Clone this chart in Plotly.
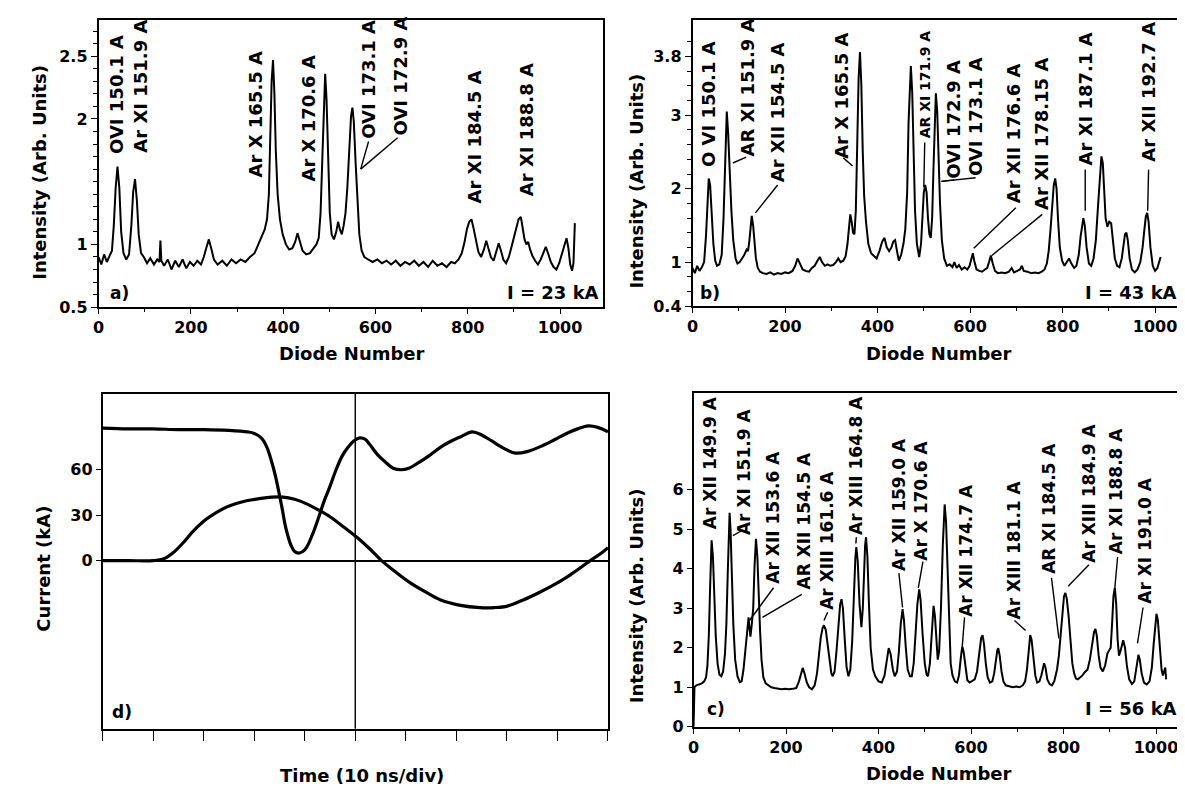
import plotly.graph_objects as go

W, H = 1185, 789
FONT = "DejaVu Sans, Liberation Sans, Arial, sans-serif"

# ---------------- Panel a) I = 23 kA ----------------
a_diode = [0, 6, 12, 18, 24, 29, 33, 37, 41, 45,
           49, 54, 60, 66, 71, 75, 79, 83, 87, 92,
           98, 105, 112, 120, 127, 132, 134, 136, 142, 150,
           158, 166, 174, 182, 190, 198, 206, 214, 222, 228,
           234, 239, 244, 250, 258, 268, 278, 288, 298, 308,
           318, 328, 338, 346, 354, 360, 365, 369, 372, 375,
           378, 381, 384, 388, 393, 399, 406, 413, 420, 426,
           431, 436, 442, 450, 458, 466, 472, 477, 481, 485,
           488, 491, 494, 497, 501, 505, 510, 515, 519, 523,
           527, 531, 535, 539, 543, 547, 550, 553, 557, 561,
           565, 570, 576, 584, 594, 604, 614, 624, 634, 644,
           654, 664, 674, 684, 694, 704, 714, 724, 734, 744,
           754, 764, 772, 780, 787, 793, 798, 803, 808, 813,
           818, 823, 829, 835, 840, 845, 850, 856, 862, 867,
           872, 877, 883, 889, 894, 900, 905, 910, 915, 919,
           923, 927, 931, 935, 940, 946, 952, 958, 964, 969,
           974, 980, 986, 992, 998, 1004, 1009, 1014, 1018, 1022,
           1026, 1029, 1032]
a_intensity = [0.90, 0.84, 0.92, 0.86, 0.91, 0.95, 1.15, 1.45, 1.62, 1.45,
               1.10, 0.93, 0.88, 0.92, 1.15, 1.42, 1.52, 1.35, 1.08, 0.93,
               0.90, 0.85, 0.89, 0.84, 0.88, 0.86, 1.03, 0.87, 0.83, 0.88,
               0.80, 0.87, 0.82, 0.88, 0.81, 0.86, 0.83, 0.87, 0.84, 0.90,
               0.98, 1.04, 0.97, 0.88, 0.84, 0.87, 0.83, 0.88, 0.85, 0.88,
               0.86, 0.90, 0.93, 1.00, 1.06, 1.12, 1.20, 1.40, 1.85, 2.30,
               2.47, 2.20, 1.75, 1.40, 1.20, 1.08, 1.00, 0.96, 0.97, 1.02,
               1.09, 1.03, 0.95, 0.92, 0.93, 0.97, 1.00, 1.05, 1.25, 1.70,
               2.15, 2.36, 2.15, 1.65, 1.25, 1.08, 1.04, 1.10, 1.18, 1.12,
               1.08, 1.15, 1.25, 1.45, 1.80, 2.02, 2.09, 1.98, 1.65, 1.32,
               1.08, 0.95, 0.90, 0.88, 0.86, 0.88, 0.85, 0.87, 0.84, 0.87,
               0.83, 0.86, 0.84, 0.87, 0.83, 0.86, 0.82, 0.87, 0.83, 0.85,
               0.82, 0.86, 0.85, 0.88, 0.93, 1.02, 1.12, 1.18, 1.20, 1.12,
               1.02, 0.94, 0.90, 0.96, 1.03, 0.97, 0.90, 0.87, 0.95, 1.01,
               0.95, 0.88, 0.85, 0.90, 0.97, 1.06, 1.15, 1.20, 1.22, 1.14,
               1.04, 1.00, 1.02, 0.96, 0.91, 0.87, 0.84, 0.88, 0.94, 0.98,
               0.93, 0.86, 0.82, 0.80, 0.85, 0.93, 1.00, 1.05, 0.97, 0.84,
               0.79, 0.85, 1.17]
a_labels = ["OVI 150.1 A", "Ar XI 151.9 A", "Ar X 165.5 A", "Ar X 170.6 A",
            "OVI 173.1 A", "OVI 172.9 A", "Ar XI 184.5 A", "Ar XI 188.8 A"]
a_label_x = [40, 92, 340, 455, 586, 654, 815, 926]
a_label_y = [1.71, 1.72, 1.53, 1.49, 1.83, 1.86, 1.32, 1.38]
a_leaders = [(568, 1.60, 585, 1.82), (568, 1.60, 648, 1.85)]

# ---------------- Panel b) I = 43 kA ----------------
b_diode = [0, 5, 10, 15, 20, 25, 29, 32, 35, 38,
           41, 45, 49, 53, 58, 63, 67, 71, 74, 77,
           80, 84, 88, 93, 97, 102, 107, 112, 117, 120,
           123, 126, 128, 131, 134, 137, 141, 146, 152, 160,
           168, 176, 184, 192, 200, 208, 216, 222, 227, 232,
           238, 245, 252, 258, 264, 270, 275, 280, 286, 292,
           298, 304, 310, 315, 320, 326, 331, 335, 338, 341,
           344, 347, 350, 353, 356, 359, 362, 365, 368, 371,
           375, 380, 386, 392, 398, 404, 410, 415, 420, 425,
           430, 434, 438, 442, 446, 451, 456, 460, 464, 467,
           470, 472, 475, 478, 481, 485, 490, 494, 497, 500,
           503, 506, 509, 512, 515, 518, 521, 524, 526, 529,
           532, 535, 539, 544, 550, 556, 562, 566, 571, 576,
           582, 588, 594, 599, 603, 606, 609, 614, 620, 626,
           632, 637, 641, 645, 649, 654, 660, 668, 676, 684,
           690, 695, 702, 708, 712, 716, 724, 732, 740, 748,
           755, 761, 766, 770, 774, 778, 781, 784, 787, 790,
           794, 799, 804, 809, 814, 819, 825, 830, 835, 839,
           842, 845, 848, 852, 857, 862, 867, 872, 877, 881,
           884, 887, 890, 893, 897, 901, 905, 909, 913, 918,
           923, 928, 932, 935, 938, 941, 945, 950, 956, 962,
           968, 973, 977, 980, 983, 986, 990, 995, 1000, 1005,
           1012]
b_intensity = [0.92, 0.85, 0.95, 0.88, 0.93, 1.00, 1.35, 1.85, 2.14, 2.05,
               1.70, 1.25, 1.02, 0.95, 0.97, 1.10, 1.60, 2.60, 3.05, 2.75,
               2.20, 1.70, 1.30, 1.05, 0.98, 1.00, 1.05, 1.10, 1.17, 1.15,
               1.30, 1.55, 1.63, 1.50, 1.25, 1.05, 0.92, 0.87, 0.85, 0.84,
               0.86, 0.83, 0.85, 0.84, 0.86, 0.85, 0.88, 0.95, 1.05, 0.97,
               0.90, 0.88, 0.87, 0.92, 0.95, 1.02, 1.07, 1.00, 0.95, 0.97,
               0.95, 0.96, 1.00, 1.05, 1.00, 1.02, 1.08, 1.25, 1.50, 1.65,
               1.55, 1.40, 1.38, 1.70, 2.60, 3.50, 3.86, 3.40, 2.50, 1.90,
               1.55, 1.25, 1.12, 1.08, 1.05, 1.15, 1.28, 1.33, 1.20, 1.15,
               1.20, 1.28, 1.30, 1.15, 1.02, 1.10, 1.25, 1.45, 1.95, 2.90,
               3.55, 3.67, 3.30, 2.50, 1.70, 1.25, 1.07, 1.25, 1.60, 1.95,
               2.05, 1.95, 1.60, 1.38, 1.33, 1.60, 2.30, 3.00, 3.30, 3.05,
               2.40, 1.80, 1.30, 1.05, 0.95, 0.97, 0.93, 1.00, 0.92, 0.96,
               0.90, 0.93, 0.90, 0.95, 1.05, 1.12, 1.02, 0.90, 0.88, 0.87,
               0.90, 0.92, 1.00, 1.09, 0.98, 0.88, 0.85, 0.86, 0.85, 0.87,
               0.92, 0.86, 0.88, 0.90, 0.95, 0.88, 0.87, 0.85, 0.86, 0.85,
               0.87, 0.90, 0.98, 1.15, 1.45, 1.80, 2.05, 2.14, 2.00, 1.60,
               1.20, 1.02, 0.95, 1.00, 1.05, 0.98, 0.92, 0.95, 1.10, 1.35,
               1.52, 1.60, 1.50, 1.20, 0.98, 0.95, 1.05, 1.30, 1.80, 2.25,
               2.44, 2.35, 1.95, 1.60, 1.48, 1.55, 1.53, 1.30, 1.05, 0.95,
               0.93, 1.05, 1.25, 1.38, 1.40, 1.30, 1.05, 0.90, 0.86, 0.90,
               1.00, 1.20, 1.45, 1.62, 1.67, 1.55, 1.20, 0.95, 0.88, 0.92,
               1.07]
b_labels = ["O VI 150.1 A", "AR XI 151.9 A", "Ar XII 154.5 A", "Ar X 165.5 A",
            "AR XI 171.9 A", "OVI 172.9 A", "OVI 173.1 A", "Ar XII 176.6 A",
            "Ar XII 178.15 A", "Ar XI 187.1 A", "Ar XII 192.7 A"]
b_label_x = [33, 119, 184, 322, 502, 564, 612, 693, 756, 849, 984]
b_label_y = [2.28, 2.42, 2.07, 2.40, 2.67, 2.12, 2.16, 1.79, 1.70, 2.30, 2.35]
b_label_size = [18, 18, 18, 18, 14, 18, 18, 18, 18, 18, 18]
b_leaders = [(87, 2.35, 116, 2.43), (136, 1.67, 184, 2.05), (346, 2.31, 326, 2.42),
             (500, 2.02, 502, 2.63), (538, 2.10, 566, 2.12), (538, 2.10, 612, 2.15),
             (608, 1.19, 699, 1.74), (647, 1.09, 756, 1.65), (849, 1.70, 849, 2.26),
             (984, 1.70, 986, 2.26)]

# ---------------- Panel c) I = 56 kA ----------------
c_diode = [0, 2, 6, 12, 18, 23, 27, 30, 33, 36,
           39, 42, 45, 48, 52, 56, 60, 64, 68, 71,
           74, 76, 78, 80, 83, 86, 90, 95, 100, 104,
           108, 112, 116, 119, 121, 123, 126, 129, 132, 135,
           138, 141, 144, 147, 151, 156, 162, 168, 175, 182,
           190, 198, 206, 214, 222, 228, 232, 236, 240, 245,
           250, 256, 262, 267, 271, 275, 279, 282, 286, 290,
           294, 298, 301, 305, 309, 313, 317, 320, 323, 327,
           331, 335, 339, 343, 347, 350, 352, 355, 359, 363,
           366, 369, 371, 373, 376, 379, 383, 388, 393, 400,
           407, 413, 418, 422, 426, 431, 435, 440, 444, 448,
           452, 455, 459, 463, 468, 472, 476, 480, 484, 488,
           491, 495, 500, 504, 507, 511, 515, 519, 522, 525,
           528, 531, 535, 539, 543, 546, 549, 552, 556, 560,
           565, 570, 574, 578, 581, 584, 588, 592, 597, 602,
           608, 613, 618, 622, 625, 628, 632, 636, 641, 646,
           650, 654, 657, 659, 662, 666, 670, 675, 682, 690,
           698, 705, 712, 717, 721, 725, 728, 731, 735, 739,
           743, 748, 752, 755, 758, 761, 765, 770, 775, 780,
           786, 790, 794, 798, 801, 804, 807, 811, 815, 819,
           823, 827, 831, 836, 841, 846, 852, 857, 862, 866,
           869, 872, 876, 880, 885, 890, 895, 899, 902, 905,
           908, 911, 914, 917, 920, 924, 929, 933, 937, 942,
           948, 953, 958, 962, 965, 969, 974, 980, 986, 991,
           995, 998, 1001, 1004, 1008, 1012, 1015, 1018, 1020, 1022]
c_intensity = [0.00, 1.00, 1.05, 1.08, 1.10, 1.15, 1.25, 1.55, 2.30, 3.60,
               4.72, 4.30, 3.20, 2.30, 1.60, 1.32, 1.28, 1.40, 1.85, 2.60,
               3.90, 4.90, 5.42, 5.00, 3.80, 2.60, 1.70, 1.28, 1.13, 1.15,
               1.45, 2.00, 2.45, 2.77, 2.50, 2.28, 2.60, 3.00, 4.10, 4.76,
               4.30, 3.20, 2.40, 1.70, 1.25, 1.10, 1.05, 1.00, 0.98, 0.97,
               0.95, 0.96, 0.95, 0.96, 0.98, 1.15, 1.35, 1.49, 1.35, 1.12,
               1.00, 0.95, 1.05, 1.35, 1.80, 2.25, 2.50, 2.57, 2.45, 2.05,
               1.61, 1.35, 1.28, 1.40, 1.90, 2.60, 3.10, 3.23, 3.00, 2.20,
               1.50, 1.28, 1.45, 2.15, 3.50, 4.30, 4.55, 4.20, 3.10, 2.52,
               3.00, 4.10, 4.60, 4.80, 4.30, 3.20, 2.00, 1.45, 1.28, 1.15,
               1.12, 1.30, 1.70, 1.99, 1.85, 1.45, 1.28, 1.40, 1.90, 2.60,
               2.98, 2.70, 2.00, 1.45, 1.28, 1.28, 1.60, 2.30, 3.10, 3.48,
               3.20, 2.40, 1.60, 1.32, 1.28, 1.60, 2.40, 3.06, 2.80, 2.10,
               1.70, 1.90, 3.00, 4.60, 5.63, 5.20, 4.00, 2.60, 1.60, 1.30,
               1.15, 1.12, 1.30, 1.75, 2.03, 1.90, 1.45, 1.18, 1.12, 1.15,
               1.20, 1.40, 1.85, 2.25, 2.32, 2.10, 1.60, 1.25, 1.12, 1.15,
               1.35, 1.70, 1.95, 1.99, 1.80, 1.40, 1.15, 1.05, 1.03, 1.00,
               1.02, 1.00, 1.05, 1.15, 1.45, 2.00, 2.32, 2.20, 1.70, 1.30,
               1.12, 1.15, 1.30, 1.50, 1.61, 1.50, 1.20, 1.08, 1.05, 1.15,
               1.45, 1.80, 2.30, 2.90, 3.30, 3.39, 3.25, 2.80, 2.20, 1.61,
               1.35, 1.22, 1.20, 1.25, 1.30, 1.38, 1.45, 1.70, 2.10, 2.40,
               2.48, 2.30, 1.80, 1.50, 1.40, 1.55, 1.86, 1.95, 2.00, 2.60,
               3.30, 3.52, 3.10, 2.20, 1.80, 1.95, 2.19, 2.00, 1.55, 1.20,
               1.08, 1.15, 1.50, 1.82, 1.70, 1.35, 1.12, 1.07, 1.15, 1.50,
               2.10, 2.60, 2.86, 2.70, 2.00, 1.45, 1.30, 1.45, 1.50, 1.20]
c_labels = ["Ar XII 149.9 A", "Ar XI 151.9 A", "Ar XII 153.6 A", "AR XII 154.5 A",
            "Ar XIII 161.6 A", "Ar XIII 164.8 A", "Ar XII 159.0 A", "Ar X 170.6 A",
            "Ar XII 174.7 A", "Ar XIII 181.1 A", "AR XI 184.5 A", "Ar XIII 184.9 A",
            "Ar XI 188.8 A", "Ar XI 191.0 A"]
c_label_x = [36, 109, 173, 238, 290, 351, 444, 492, 589, 694, 770, 855, 915, 976]
c_label_y = [4.97, 4.84, 3.60, 3.44, 2.94, 4.84, 3.93, 4.18, 2.77, 2.69, 3.85, 4.14, 4.35, 3.10]
c_leaders = [(85, 4.84, 105, 4.97), (121, 2.69, 173, 3.52), (149, 2.77, 234, 3.35),
             (282, 2.69, 290, 2.90), (351, 4.64, 352, 4.80), (452, 3.02, 444, 3.89),
             (486, 3.52, 496, 4.18), (581, 2.03, 586, 2.77), (718, 2.44, 694, 2.69),
             (790, 2.24, 774, 3.77), (810, 3.56, 855, 4.10), (911, 3.52, 917, 4.30),
             (960, 2.11, 972, 3.02)]

# ---------------- Panel d) current traces ----------------
d_time_1 = [0, 0.5, 1, 1.5, 2, 2.5, 2.87, 3.0, 3.14, 3.25,
            3.34, 3.42, 3.49, 3.55, 3.61, 3.67, 3.73, 3.8, 3.88, 3.96,
            4.04, 4.15, 4.27, 4.38, 4.5, 4.62, 4.74, 4.86, 4.97, 5.09,
            5.2, 5.28, 5.44, 5.6, 5.75, 5.91, 6.06, 6.22, 6.45, 6.69,
            6.9, 7.1, 7.31, 7.5, 7.7, 7.95, 8.17, 8.4, 8.71, 8.95,
            9.18, 9.4, 9.61, 9.8, 10]
d_signal_1 = [87.5, 87, 87, 86.5, 86.5, 86, 85, 84, 81, 75,
              66, 56, 45, 35, 24, 16, 10, 6, 5, 6,
              9, 17, 28, 39, 49, 60, 69, 75, 79, 81,
              80, 77, 70, 65, 61, 60, 61, 64, 69, 75,
              79, 82, 85, 83, 79, 74, 71, 72, 76, 80,
              84, 87, 89, 88, 85]
d_time_2 = [0, 0.5, 1.0, 1.2, 1.39, 1.6, 1.78, 2.0, 2.17, 2.4,
            2.63, 2.85, 3.1, 3.35, 3.57, 3.8, 4.04, 4.27, 4.5, 4.78,
            5.05, 5.28, 5.52, 5.78, 6.06, 6.38, 6.69, 7.08, 7.47, 7.75,
            8.01, 8.32, 8.64, 8.9, 9.18, 9.42, 9.65, 9.85, 10]
d_current_2 = [0, 0, 0, 1, 5, 12, 19, 26, 30, 34.5,
               37.5, 39.5, 41, 42, 42, 40.5, 37.5, 33.5, 29, 22,
               15, 8, 0, -7, -14, -20.5, -26, -29.5, -31, -31,
               -30, -26, -21, -16.5, -11, -5.5, 0, 4.5, 8.6]

# ---------------- figure ----------------
fig = go.Figure()
spec_line = dict(color="black", width=2)
fig.add_trace(go.Scatter(x=a_diode, y=a_intensity, mode="lines", line=spec_line,
                         xaxis="x", yaxis="y", showlegend=False, hoverinfo="skip"))
fig.add_trace(go.Scatter(x=b_diode, y=b_intensity, mode="lines", line=spec_line,
                         xaxis="x2", yaxis="y2", showlegend=False, hoverinfo="skip"))
fig.add_trace(go.Scatter(x=c_diode, y=c_intensity, mode="lines", line=spec_line,
                         xaxis="x3", yaxis="y3", showlegend=False, hoverinfo="skip"))
fig.add_trace(go.Scatter(x=d_time_1, y=d_signal_1, mode="lines", line=dict(color="black", width=3.2, shape="spline"),
                         xaxis="x4", yaxis="y4", showlegend=False, hoverinfo="skip"))
fig.add_trace(go.Scatter(x=d_time_2, y=d_current_2, mode="lines", line=dict(color="black", width=3.2, shape="spline"),
                         xaxis="x4", yaxis="y4", showlegend=False, hoverinfo="skip"))


def dom_x(l, r):
    return [l / W, min(r / W, 1.0)]


def dom_y(top, bottom):
    return [1 - bottom / H, 1 - top / H]


tickfont = dict(family=FONT, size=16, color="black", weight="bold")
common = dict(showline=True, linecolor="black", linewidth=1.6,
              ticks="outside", tickcolor="black", tickwidth=1.3, showgrid=False,
              zeroline=False, tickfont=tickfont, fixedrange=True)

diode_ticks = [0, 200, 400, 600, 800, 1000]
minor_x = dict(tickvals=list(range(100, 1100, 200)), ticks="outside", ticklen=3,
               tickcolor="black", showgrid=False)

fig.update_layout(
    width=W, height=H, margin=dict(l=0, r=0, t=0, b=0),
    paper_bgcolor="white", plot_bgcolor="white",
    font=dict(family=FONT, color="black"),
    xaxis=dict(domain=dom_x(85, 592), range=[0, 1093], anchor="y", mirror=True,
               tickvals=diode_ticks, ticklen=5, minor=minor_x, **common),
    yaxis=dict(domain=dom_y(12, 303), range=[0.5, 2.79], anchor="x", mirror=True,
               tickvals=[0.5, 1, 2, 2.5], ticktext=["0.5", "1", "2", "2.5"], ticklen=6,
               minor=dict(tickvals=[round(0.5 + 0.1 * i, 2) for i in range(23)],
                          ticks="outside", ticklen=4, tickcolor="black", showgrid=False),
               **common),
    xaxis2=dict(domain=dom_x(682, 1185), range=[0, 1082], anchor="y2", mirror=True,
                tickvals=diode_ticks, ticklen=5, minor=minor_x, **common),
    yaxis2=dict(domain=dom_y(12, 302), range=[0.4, 4.3], anchor="x2", mirror=False,
                tickvals=[0.4, 1, 2, 3, 3.8], ticktext=["0.4", "1", "2", "3", "3.8"], ticklen=6,
                minor=dict(tickvals=[round(0.4 + 0.2 * i, 2) for i in range(19)],
                           ticks="outside", ticklen=4, tickcolor="black", showgrid=False),
                **common),
    xaxis3=dict(domain=dom_x(683, 1185), range=[0, 1080], anchor="y3", mirror=True,
                tickvals=diode_ticks, ticklen=5, minor=minor_x, **common),
    yaxis3=dict(domain=dom_y(390, 728), range=[0, 8.45], anchor="x3", mirror=False,
                tickvals=[0, 1, 2, 3, 4, 5, 6], ticklen=5, **common),
    xaxis4=dict(domain=dom_x(89, 597), range=[0, 10], anchor="y4", mirror=True,
                tickvals=list(range(0, 11)), showticklabels=False, ticklen=10, **common),
    yaxis4=dict(domain=dom_y(391, 730), range=[-111, 110], anchor="x4", mirror=True,
                tickvals=[0, 30, 60], ticklen=5, **common),
)
fig.update_yaxes(selector=dict(anchor="x4"), zeroline=True, zerolinecolor="black", zerolinewidth=2.2)

annotations = []
shapes = []


def add_labels(texts, xs, ys, xr, yr, size, sizes=None):
    for i, (t, x, y) in enumerate(zip(texts, xs, ys)):
        s = sizes[i] if sizes else size
        annotations.append(dict(text=t, x=x, y=y, xref=xr, yref=yr, textangle=-90,
                                xanchor="center", yanchor="bottom", showarrow=False,
                                font=dict(family=FONT, size=s, color="black", weight="bold"),
                                borderpad=0))


def add_leaders(segs, xr, yr):
    for (x0, y0, x1, y1) in segs:
        shapes.append(dict(type="line", x0=x0, y0=y0, x1=x1, y1=y1, xref=xr, yref=yr,
                           line=dict(color="black", width=1.4)))


add_labels(a_labels, a_label_x, a_label_y, "x", "y", 18)
add_labels(b_labels, b_label_x, b_label_y, "x2", "y2", 18, b_label_size)
add_labels(c_labels, c_label_x, c_label_y, "x3", "y3", 17)
add_leaders(a_leaders, "x", "y")
add_leaders(b_leaders, "x2", "y2")
add_leaders(c_leaders, "x3", "y3")

# vertical divider in panel d
shapes.append(dict(type="line", x0=5, x1=5, y0=0, y1=1, xref="x4", yref="y4 domain",
                   line=dict(color="black", width=1.4)))

txt = dict(family=FONT, size=18, color="black", weight="bold")
tag = dict(family=FONT, size=17, color="black", weight="bold")
cur = dict(family=FONT, size=18, color="black", weight="bold")
# panel tags and currents
for t, x, y, xr, yr, xa, f in [("a)", 20, 0.52, "x", "y", "left", tag),
                               ("I = 23 kA", 1088, 0.52, "x", "y", "right", cur),
                               ("b)", 12, 0.42, "x2", "y2", "left", tag),
                               ("I = 43 kA", 1052, 0.42, "x2", "y2", "right", cur),
                               ("c)", 25, 0.15, "x3", "y3", "left", tag),
                               ("I = 56 kA", 1050, 0.15, "x3", "y3", "right", cur),
                               ("d)", 0.15, -108, "x4", "y4", "left", tag)]:
    annotations.append(dict(text=t, x=x, y=y, xref=xr, yref=yr, xanchor=xa, yanchor="bottom",
                            showarrow=False, font=f))

# axis titles
for t, x, y, ang in [("Diode Number", 340, 350, 0),
                     ("Diode Number", 930, 350, 0),
                     ("Diode Number", 930, 775, 0),
                     ("Time (10 ns/div)", 350, 777, 0),
                     ("Intensity (Arb. Units)", 26, 166, -90),
                     ("Intensity (Arb. Units)", 626, 175, -90),
                     ("Intensity (Arb. Units)", 626, 595, -90),
                     ("Current (kA)", 30, 568, -90)]:
    annotations.append(dict(text=t, x=x / W, y=1 - y / H, xref="paper", yref="paper",
                            xanchor="center", yanchor="middle", textangle=ang,
                            showarrow=False, font=txt))

fig.update_layout(annotations=annotations, shapes=shapes)
fig.write_html("out.html")
